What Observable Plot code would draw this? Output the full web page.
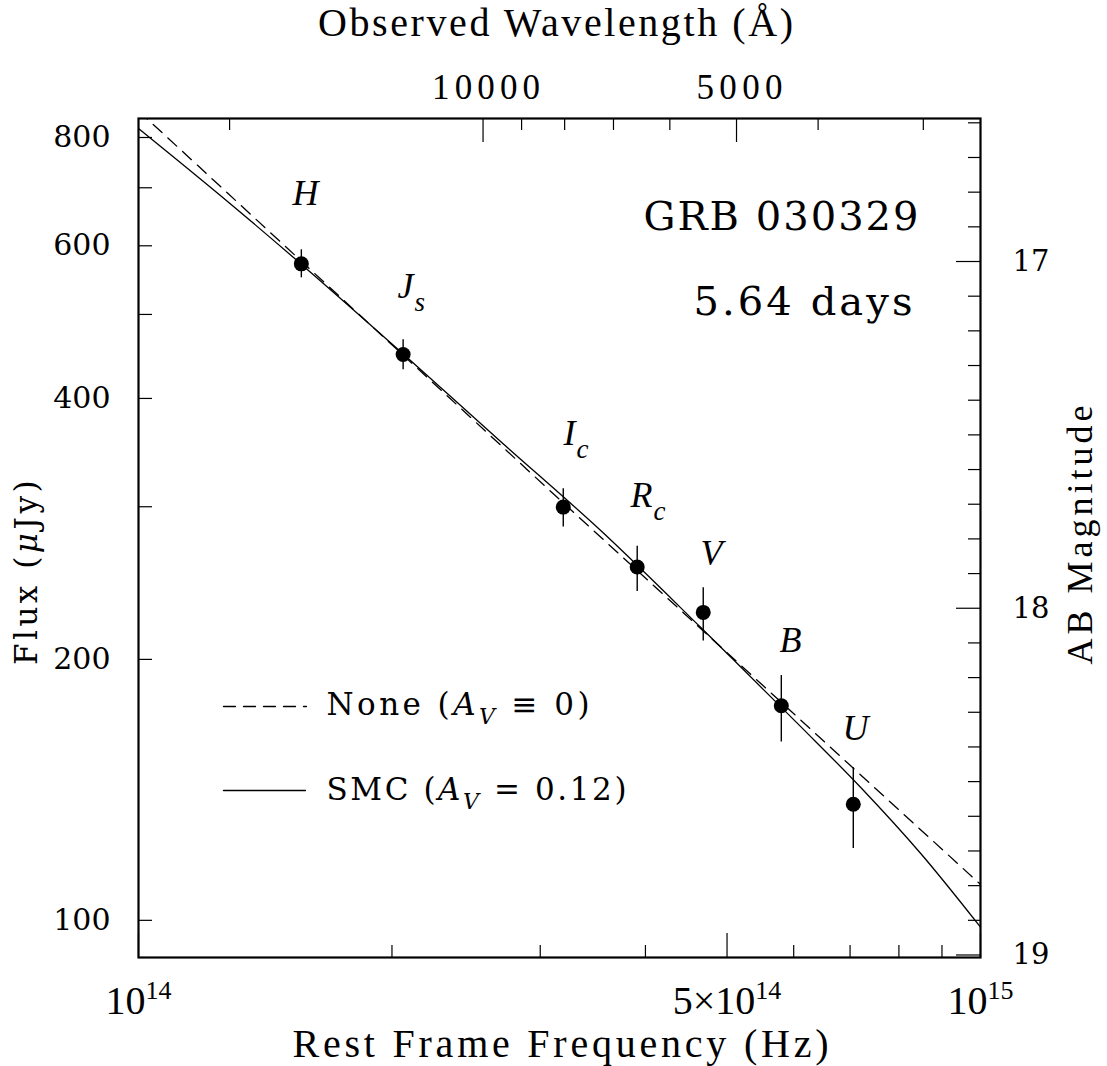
<!DOCTYPE html>
<html><head><meta charset="utf-8">
<script src="https://cdn.jsdelivr.net/npm/d3@7"></script>
<script src="https://cdn.jsdelivr.net/npm/@observablehq/plot@0.6"></script>
<style>html,body{margin:0;padding:0;background:#fff} svg{display:block} text{white-space:pre}</style>
</head><body><div id="chart"></div>
<script>
// ---------------- data ----------------
const bands    = ["H", "J", "I", "R", "V", "B", "U"];
const bandSub  = ["", "s", "c", "c", "", "", ""];
const freq     = [1.561e14, 2.062e14, 3.195e14, 3.911e14, 4.685e14, 5.800e14, 7.062e14]; // Hz
const flux     = [571.9, 449.5, 299.7, 255.6, 226.6, 176.8, 136.1];   // μJy
const fluxLo   = [551.1, 431.7, 284.2, 239.6, 210.0, 160.6, 121.0];
const fluxHi   = [593.7, 467.5, 314.7, 270.1, 241.9, 191.6, 150.0];
// band-label anchors (right edge of letter), in data units
const labelFreq = [1.636e14, 2.121e14, 3.304e14, 4.078e14, 4.939e14, 6.131e14, 7.362e14];
const labelFlux = [690.3, 538.0, 364.0, 308.8, 264.7, 210.3, 166.3];

// model curves
const smcFreq  = [1.000e14, 1.251e14, 1.557e14, 2.047e14, 2.692e14, 3.537e14, 4.651e14, 6.112e14, 7.203e14, 8.487e14, 1.000e15];
const smcFlux  = [819.5, 685.8, 572.5, 453.1, 356.8, 281.8, 217.8, 167.4, 142.4, 119.5, 98.2];
const noneFreq = [1.000e14, 3.171e14, 1.000e15];
const noneFlux = [858.7, 305.1, 110.0];

// axes
const fluxTicks   = [100, 200, 300, 400, 500, 600, 700, 800];
const fluxLabels  = [100, 200, 400, 600, 800];
const freqMinor   = [2e14, 3e14, 4e14, 6e14, 7e14, 8e14, 9e14];
const freqMajor   = [1e14, 5e14, 1e15];
const freqLabels  = ["10^14", "5×10^14", "10^15"];
const waveMajor   = [10000, 5000];
const waveMinor   = [20000, 9000, 8000, 7000, 6000, 4000, 3000];
const magMajor    = [17, 18, 19];
const magMinor    = [16.6, 16.7, 16.8, 16.9, 17.1, 17.2, 17.3, 17.4, 17.5, 17.6, 17.7, 17.8, 17.9,
                     18.1, 18.2, 18.3, 18.4, 18.5, 18.6, 18.7, 18.8, 18.9];
const legendLabels = ["None (A_V ≡ 0)", "SMC (A_V = 0.12)"];
const titleTop    = "Observed Wavelength (Å)";
const titleBottom = "Rest Frame Frequency (Hz)";
const titleLeft   = "Flux (μJy)";
const titleRight  = "AB Magnitude";
const grbName     = "GRB 030329";
const epoch       = "5.64 days";

// unit conversions
const C_ANG = 2.998e18, Z = 0.1685;
const nuFromWave = w => C_ANG / (w * (1 + Z));
const fluxFromMag = m => 3631e6 * Math.pow(10, -0.4 * m);

// ---------------- build ----------------
const W = 1107, H = 1066, mL = 138, mR = 127, mT = 118, mB = 109;
const fw = W - mL - mR, fh = H - mT - mB;
const pts = bands.map((b, i) => ({band: b, sub: bandSub[i], nu: freq[i], f: flux[i], lo: fluxLo[i], hi: fluxHi[i], lnu: labelFreq[i], lf: labelFlux[i]}));
const smc = smcFreq.map((v, i) => ({nu: v, f: smcFlux[i]}));
const none = noneFreq.map((v, i) => ({nu: v, f: noneFlux[i]}));

const SERIF = "Liberation Serif, Times New Roman, serif";
const ROUND = "DejaVu Serif, serif";
const minor = 12, major = 24;
const lineShape = {draw(ctx, l) { ctx.moveTo(0, 0); ctx.lineTo(0, -l); }};
const M = "middle";

const svg = Plot.plot({
  width: W, height: H,
  marginLeft: mL, marginRight: mR, marginTop: mT, marginBottom: mB,
  style: {fontFamily: ROUND, background: "white", color: "black"},
  x: {type: "log", domain: [1e14, 1e15], axis: null},
  y: {type: "log", domain: [90.6, 841.4], axis: null},
  marks: [
    // ticks
    Plot.tickX(freqMinor, {x: d => d, insetTop: fh - minor, stroke: "black", strokeWidth: 1.2}),
    Plot.tickX(freqMajor, {x: d => d, insetTop: fh - major, stroke: "black", strokeWidth: 1.2}),
    Plot.tickX(waveMinor, {x: nuFromWave, insetBottom: fh - minor, stroke: "black", strokeWidth: 1.2}),
    Plot.tickX(waveMajor, {x: nuFromWave, insetBottom: fh - major, stroke: "black", strokeWidth: 1.2}),
    Plot.tickY(fluxTicks, {y: d => d, insetRight: fw - 14, stroke: "black", strokeWidth: 1.2}),
    Plot.tickY(magMinor, {y: fluxFromMag, insetLeft: fw - minor, stroke: "black", strokeWidth: 1.2}),
    Plot.tickY(magMajor, {y: fluxFromMag, insetLeft: fw - major, stroke: "black", strokeWidth: 1.2}),
    // curves
    Plot.line(none, {x: "nu", y: "f", stroke: "black", strokeWidth: 1.3, strokeDasharray: "12,8", clip: true}),
    Plot.line(smc, {x: "nu", y: "f", curve: "catmull-rom", stroke: "black", strokeWidth: 1.3, clip: true}),
    // data
    Plot.ruleX(pts, {x: "nu", y1: "lo", y2: "hi", stroke: "black", strokeWidth: 1.4}),
    Plot.dot(pts, {x: "nu", y: "f", r: 7.5, fill: "black", stroke: "none"}),
    Plot.text(pts, {x: "lnu", y: "lf", text: "band", textAnchor: "end", lineAnchor: M, fontStyle: "italic", fontFamily: SERIF, fontSize: 36}),
    Plot.text(pts.filter(d => d.sub), {x: "lnu", y: "lf", text: "sub", textAnchor: "start", lineAnchor: M, dx: 1, dy: 15, fontStyle: "italic", fontFamily: SERIF, fontSize: 27}),
    // tick labels
    Plot.text(fluxLabels, {y: d => d, text: d => String(d), frameAnchor: "left", lineAnchor: M, dx: -28, textAnchor: "end", fontSize: 30}),
    Plot.text(magMajor, {y: fluxFromMag, text: d => String(d), frameAnchor: "right", lineAnchor: M, dx: 32, textAnchor: "start", fontSize: 29}),
    Plot.text(freqMajor, {x: d => d, text: (d, i) => freqLabels[i], frameAnchor: "bottom", textAnchor: M, lineAnchor: M, dy: 44, fontFamily: SERIF, fontSize: 40}),
    Plot.text(waveMajor, {x: nuFromWave, text: d => String(d), frameAnchor: "top", textAnchor: M, lineAnchor: M, dx: 3, dy: -31, fontFamily: SERIF, fontSize: 35}),
    // titles
    Plot.text([titleTop], {text: d => d, frameAnchor: "top", textAnchor: M, lineAnchor: M, dx: -4, dy: -95, fontFamily: SERIF, fontSize: 40}),
    Plot.text([titleBottom], {text: d => d, frameAnchor: "bottom", textAnchor: M, lineAnchor: M, dx: 1, dy: 87, fontFamily: SERIF, fontSize: 40}),
    Plot.text([titleLeft], {text: d => d, frameAnchor: "left", textAnchor: M, lineAnchor: M, dx: -111, dy: 33, rotate: -90, fontSize: 31}),
    Plot.text([titleRight], {text: d => d, frameAnchor: "right", textAnchor: M, lineAnchor: M, dx: 100, dy: -5, rotate: -90, fontFamily: SERIF, fontSize: 36}),
    Plot.text([grbName], {text: d => d, frameAnchor: "top-right", lineAnchor: M, dx: -62, dy: 99, textAnchor: "end", fontSize: 40}),
    Plot.text([epoch], {text: d => d, frameAnchor: "top-right", lineAnchor: M, dx: -68, dy: 184, textAnchor: "end", fontSize: 40}),
    // legend
    Plot.vector([0], {frameAnchor: "top-left", dx: 85, dy: 588, length: 83, rotate: 90, anchor: "start", shape: lineShape, stroke: "black", strokeWidth: 1.3, strokeDasharray: "12,8"}),
    Plot.vector([0], {frameAnchor: "top-left", dx: 85, dy: 672, length: 82, rotate: 90, anchor: "start", shape: lineShape, stroke: "black", strokeWidth: 1.3}),
    Plot.text([legendLabels[0]], {text: d => d, frameAnchor: "top-left", lineAnchor: M, dx: 188, dy: 587, textAnchor: "start", fontSize: 31}),
    Plot.text([legendLabels[1]], {text: d => d, frameAnchor: "top-left", lineAnchor: M, dx: 188, dy: 672, textAnchor: "start", fontSize: 31}),
    Plot.frame({stroke: "black", strokeWidth: 2.2})
  ]
});

// rich text: superscripts, subscripts, italics; widths tuned to the figure
const widths = {};
widths[titleTop] = 475; widths[titleBottom] = 536;
widths[grbName] = 275; widths[epoch] = 219;
widths[legendLabels[0]] = 263; widths[legendLabels[1]] = 300;
widths["10000"] = 108; widths["5000"] = 86;
const spacing = {};
spacing[titleRight] = 4; spacing[titleLeft] = 3.5;
d3.select(svg).selectAll("text").each(function() {
  const el = d3.select(this);
  const s = el.text();
  const w = widths[s], sp = spacing[s];
  if (s.includes("^")) {
    const [base, exp] = s.split("^");
    el.text(null);
    el.append("tspan").text(base);
    el.append("tspan").attr("font-size", 26).attr("dy", -15).text(exp);
  } else if (s.includes("A_V")) {
    const [pre, post] = s.split("A_V");
    el.text(null);
    el.append("tspan").text(pre);
    el.append("tspan").attr("font-style", "italic").text("A");
    el.append("tspan").attr("font-style", "italic").attr("font-size", 22).attr("dy", 9).text("V");
    el.append("tspan").attr("dy", -9).text(post);
  } else if (s === titleLeft) {
    el.text(null);
    el.append("tspan").text("Flux (");
    el.append("tspan").attr("font-style", "italic").text("μ");
    el.append("tspan").text("Jy)");
  }
  if (w) el.attr("textLength", w).attr("lengthAdjust", "spacing");
  if (sp) el.attr("letter-spacing", sp);
});
document.getElementById("chart").appendChild(svg);
</script>
</body></html>
